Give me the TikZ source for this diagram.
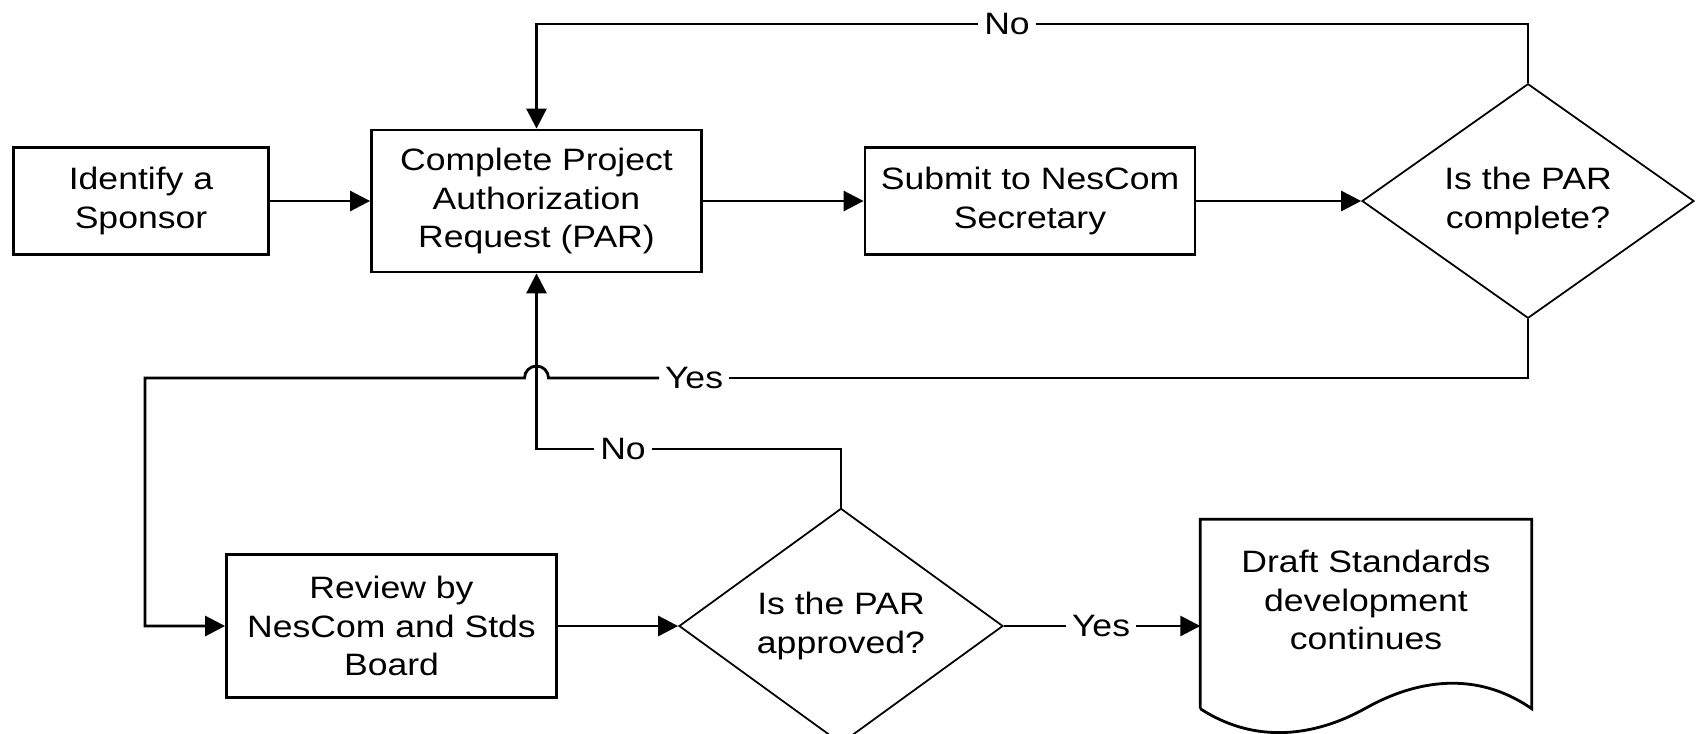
\documentclass[tikz,border=0pt]{standalone}
\usepackage{fontspec}
\newfontfamily\flowfont{Liberation Sans}[FakeStretch=1.15]
\usetikzlibrary{shapes,arrows.meta,calc}

\begin{document}
\begin{tikzpicture}[every node/.style={font={\flowfont\fontsize{8.8}{10.9}\selectfont}, align=center},
  box/.style={draw, line width=0.8pt, inner sep=0pt, minimum width=3.3cm},
  decision/.style={draw, diamond, line width=0.5pt, inner sep=0pt, minimum width=3.3cm, minimum height=2.1cm},
  lbl/.style={fill=white, inner sep=1.5pt},
  flow/.style={->, draw, line width=0.8pt},
  >={Triangle[length=2mm, width=2mm]}]
  \useasboundingbox (0,0) rectangle (16.98,-7.33);

  \node[box, minimum width=2.55cm, minimum height=1.07cm] (sponsor) at (1.41,-2.01) {Identify a\\Sponsor};
  \node[box, minimum height=1.42cm] (par) at (5.365,-2.01) {Complete Project\\Authorization\\Request (PAR)};
  \node[box, minimum height=1.07cm] (submit) at (10.30,-2.01) {Submit to NesCom\\Secretary};
  \node[decision, minimum width=3.32cm, minimum height=2.11cm] (complete) at (15.28,-2.01) {Is the PAR\\complete?};
  \node[box, minimum height=1.43cm] (review) at (3.915,-6.26) {Review by\\NesCom and Stds\\Board};
  \node[decision, minimum width=3.24cm, minimum height=2.08cm] (approved) at (8.41,-6.26) {Is the PAR\\approved?};
  \node[inner sep=0pt, minimum width=3.3cm, minimum height=1.6cm] (draft) at (13.66,-6.0) {Draft Standards\\development\\continues};

  \node[lbl] (no1) at (10.07,-0.24) {No};
  \node[lbl] (yes1) at (6.94,-3.78) {Yes};
  \node[lbl] (no2) at (6.23,-4.49) {No};
  \node[lbl] (yes2) at (11.01,-6.26) {Yes};
  \coordinate (rail) at (1.45,-3.78);

  \draw[flow] (sponsor) -- (par);
  \draw[flow] (par) -- (submit);
  \draw[flow] (submit) -- (complete);
  \draw[flow] (complete.north) |- (no1) -| (par.north);
  \draw[line width=0.8pt] (complete.south) |- (yes1);
  \draw[flow] (yes1) -- ($(par.south |- rail)+(0.12,0)$) arc[start angle=0, end angle=180, radius=0.12] -- (rail) |- (review.west);
  \draw[flow] (approved.north) |- (no2) -| (par.south);
  \draw[flow] (review) -- (approved);
  \draw[line width=0.8pt] (approved) -- (yes2);
  \draw[flow] (yes2) -- (yes2 -| draft.west);

  \draw[line width=0.8pt] ($(draft.south west)+(0,-0.28)$) -- (draft.north west) -- (draft.north east) -- ($(draft.south east)+(0,-0.28)$)
    .. controls ($(draft.center)+(1.1,-0.7)$) and ($(draft.center)+(0.5,-0.8)$) .. ($(draft.center)+(0,-1.08)$)
    .. controls ($(draft.center)+(-0.5,-1.36)$) and ($(draft.center)+(-1.1,-1.45)$) .. ($(draft.south west)+(0,-0.28)$);
\end{tikzpicture}
\end{document}
